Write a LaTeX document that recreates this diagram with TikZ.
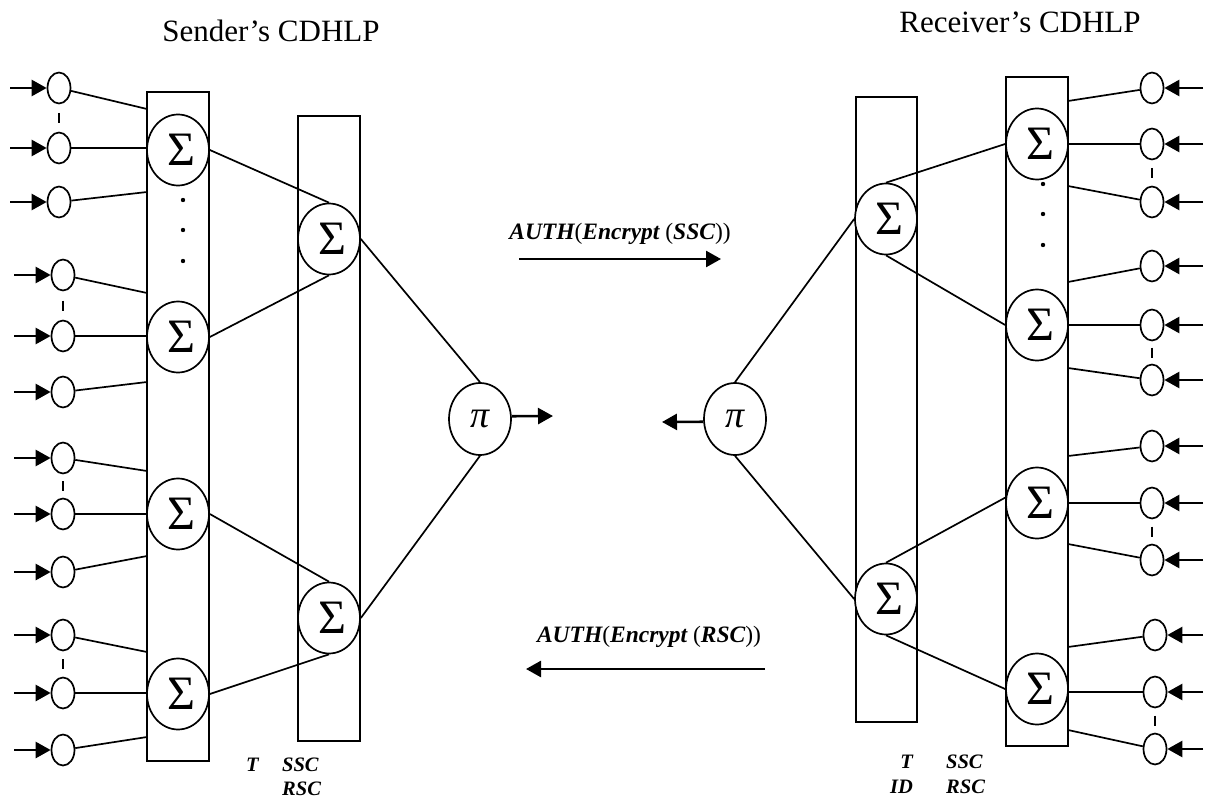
\documentclass[tikz,border=0pt]{standalone}
\usepackage{fontspec}
\setmainfont{Liberation Serif}
\usetikzlibrary{shapes.geometric,arrows.meta,calc}
\newcommand\bfit[1]{{\bfseries\itshape #1}}
\newcommand\sumsign{\hspace*{6pt}\raisebox{-3pt}{Σ}}

\begin{document}
\begin{tikzpicture}[x=1pt,y=-1pt,line width=1.7pt,
  inp/.style={draw,ellipse,minimum width=23pt,minimum height=31pt,inner sep=0pt},
  sumn/.style={draw,ellipse,minimum width=62pt,minimum height=71pt,inner sep=0pt,fill=white,
    font=\fontsize{48}{48}\selectfont},
  prodn/.style={draw,ellipse,minimum width=62pt,minimum height=72pt,inner sep=0pt,fill=white,
    font=\fontsize{38}{38}\selectfont\itshape},
  layer/.style={draw,rectangle,inner sep=0pt,minimum width=62pt},
  feed/.style={-{Triangle[length=15pt,width=16pt]},line width=2.6pt},
  link/.style={line width=1.7pt},
  title/.style={anchor=base,font=\fontsize{31}{31}\selectfont},
  msg/.style={anchor=base,font=\fontsize{23.5}{23.5}\selectfont},
  var/.style={font=\fontsize{20.5}{20.5}\selectfont\bfseries\itshape}]

\useasboundingbox (0,0) rectangle (1205,797);

% titles
\node[title] (tS) at (271,42) {Sender’s CDHLP};
\node[title] (tR) at (1020,33) {Receiver’s CDHLP};

% layer boxes
\node[layer,minimum height=669pt] (L1) at (178,426.5) {};
\node[layer,minimum height=625pt] (L2) at (329,428.5) {};
\node[layer,minimum width=61pt,minimum height=625pt] (R1) at (886.5,409.5) {};
\node[layer,minimum height=669pt] (R2) at (1037,411.5) {};

% sender summation units
\node[sumn] (s1) at (178,150) {\sumsign};
\node[sumn] (s2) at (178,337) {\sumsign};
\node[sumn] (s3) at (178,514) {\sumsign};
\node[sumn] (s4) at (178,694) {\sumsign};
\node[sumn] (sa) at (329,239) {\sumsign};
\node[sumn] (sb) at (329,618) {\sumsign};
\node[prodn] (P1) at (480,419) {π};

% receiver summation units
\node[sumn] (r1) at (1037,144) {\sumsign};
\node[sumn] (r2) at (1037,325) {\sumsign};
\node[sumn] (r3) at (1037,503) {\sumsign};
\node[sumn] (r4) at (1037,689) {\sumsign};
\node[sumn] (ra) at (886,219) {\sumsign};
\node[sumn] (rb) at (886,599) {\sumsign};
\node[prodn] (P2) at (735,419) {π};

% vertical dots inside the first layers
\foreach \y in {200,230,261} \fill (183,\y) circle (2.2pt);
\foreach \y in {184,214,245} \fill (1043,\y) circle (2.2pt);

% sender inputs: name / x / y / y where the link meets the box (0 = straight into the sum)
\foreach \n/\x/\y/\t in {1/59/88/109, 2/59/148/0, 3/59/202/192,
                         4/63/275/293, 5/63/336/0, 6/63/392/382,
                         7/63/458/471, 8/63/514/0, 9/63/572/556,
                         10/63/635/652, 11/63/693/0, 12/63/750/737}{
  \node[inp] (li\n) at (\x,\y) {};
  \coordinate (lf\n) at (\x-49,\y);
  \draw[feed] (lf\n) -- (li\n.west);
  \ifnum\t=0
    \draw[link] (li\n) -- (li\n -| L1.west);
  \else
    \coordinate (lt\n) at (147,\t);
    \draw[link] (li\n) -- (lt\n);
  \fi
}

% receiver inputs
\foreach \n/\x/\y/\t in {1/1152/88/101, 2/1152/144/0, 3/1152/202/186,
                         4/1152/266/282, 5/1152/325/0, 6/1152/380/368,
                         7/1152/446/456, 8/1152/503/0, 9/1152/560/544,
                         10/1155/635/647, 11/1155/692/0, 12/1155/749/730}{
  \node[inp] (ri\n) at (\x,\y) {};
  \coordinate (rf\n) at (1203,\y);
  \draw[feed] (rf\n) -- (ri\n.east);
  \ifnum\t=0
    \draw[link] (ri\n) -- (ri\n -| R2.east);
  \else
    \coordinate (rt\n) at (1068,\t);
    \draw[link] (ri\n) -- (rt\n);
  \fi
}

% short marks between neighbouring inputs
\foreach \a/\b in {li1/li2, li4/li5, li7/li8, li10/li11,
                   ri2/ri3, ri5/ri6, ri8/ri9, ri11/ri12}
  \draw[link] ($(\a)!0.5!(\b)$) +(0,-5) -- +(0,5);

% sender links
\draw[link] (s1.east) -- (sa.north);
\draw[link] (s2.east) -- (sa.south);
\draw[link] (s3.east) -- (sb.north);
\draw[link] (s4.east) -- (sb.south);
\draw[link] (sa.east) -- (P1.north);
\draw[link] (sb.east) -- (P1.south);

% receiver links
\draw[link] (ra.north) -- (r1.west);
\draw[link] (ra.south) -- (r2.west);
\draw[link] (rb.north) -- (r3.170);
\draw[link] (rb.south) -- (r4.west);
\draw[link] (P2.north) -- (ra.west);
\draw[link] (P2.south) -- (rb.west);

% outputs of the product units
\coordinate (o1) at (553,416);
\coordinate (o2) at (662,422);
\draw[feed] (P1.5) -- (o1);
\draw[feed] (P2.185) -- (o2);

% exchanged messages
\coordinate (m1s) at (519,259);
\coordinate (m1e) at (721,259);
\coordinate (m2s) at (765,669);
\coordinate (m2e) at (526,669);
\draw[feed] (m1s) -- (m1e);
\draw[feed] (m2s) -- (m2e);
\node[msg] (lab1) at (620,239) {\bfit{AUTH}(\bfit{Encrypt} (\bfit{SSC}))};
\node[msg] (lab2) at (649,642) {\bfit{AUTH}(\bfit{Encrypt} (\bfit{RSC}))};

% stored values
\node[var,anchor=base west] (vT1) at (242,771) {T};
\node[var,anchor=base west] (vS1) at (278,771) {SSC};
\node[var,anchor=base west] (vR1) at (278,795) {RSC};
\node[var,anchor=base east] (vT2) at (917,768) {T};
\node[var,anchor=base east] (vI2) at (917,793) {ID};
\node[var,anchor=base west] (vS2) at (942,768) {SSC};
\node[var,anchor=base west] (vR2) at (942,793) {RSC};
\end{tikzpicture}
\end{document}
